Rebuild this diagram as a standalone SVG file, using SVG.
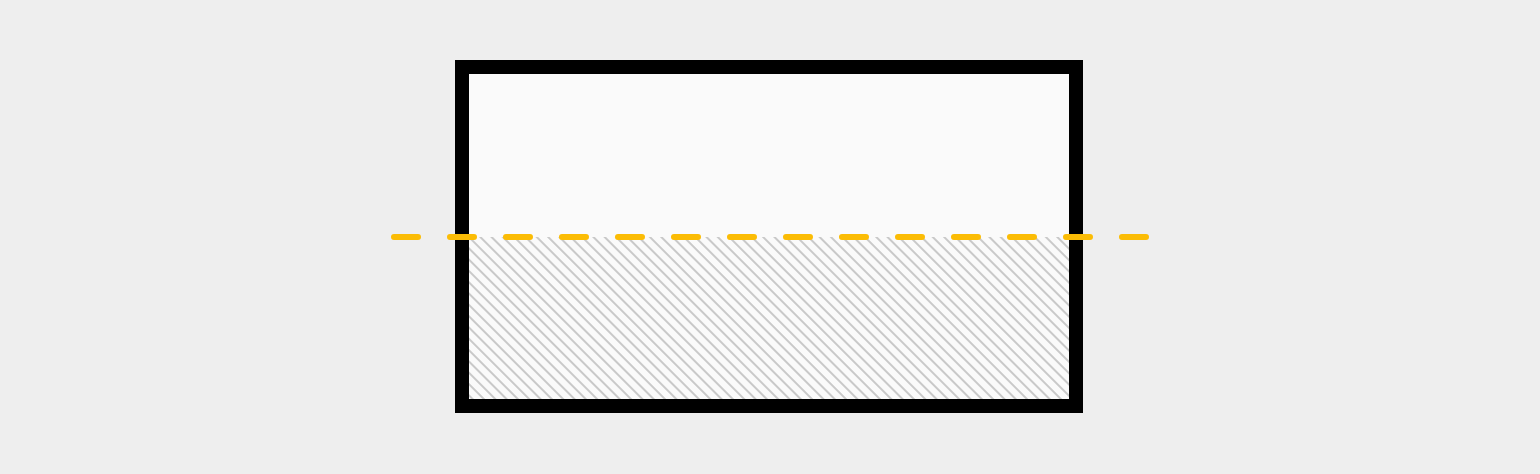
<svg xmlns="http://www.w3.org/2000/svg" width="1540" height="474" viewBox="0 0 1540 474">
  <defs>
    <pattern id="hatch" width="8" height="8" patternUnits="userSpaceOnUse" patternTransform="rotate(45)">
      <line x1="0" y1="4" x2="8" y2="4" stroke="#bdbdbd" stroke-width="1.6"/>
    </pattern>
  </defs>
  <style>
    .tank { fill: none; stroke: #000; stroke-width: 14; }
    .level { stroke: #fbbc05; stroke-width: 6; stroke-linecap: round; stroke-dasharray: 24 32; fill: none; }
  </style>
  <rect width="1540" height="474" fill="#eeeeee"/>
  <g id="tank">
    <rect x="462" y="67" width="614" height="339" fill="#fafafa"/>
    <rect x="469" y="237" width="600" height="162" fill="url(#hatch)"/>
    <rect class="tank" x="462" y="67" width="614" height="339"/>
  </g>
  <g id="connectors">
    <line class="level" x1="394" y1="237" x2="1146" y2="237"/>
  </g>
</svg>
